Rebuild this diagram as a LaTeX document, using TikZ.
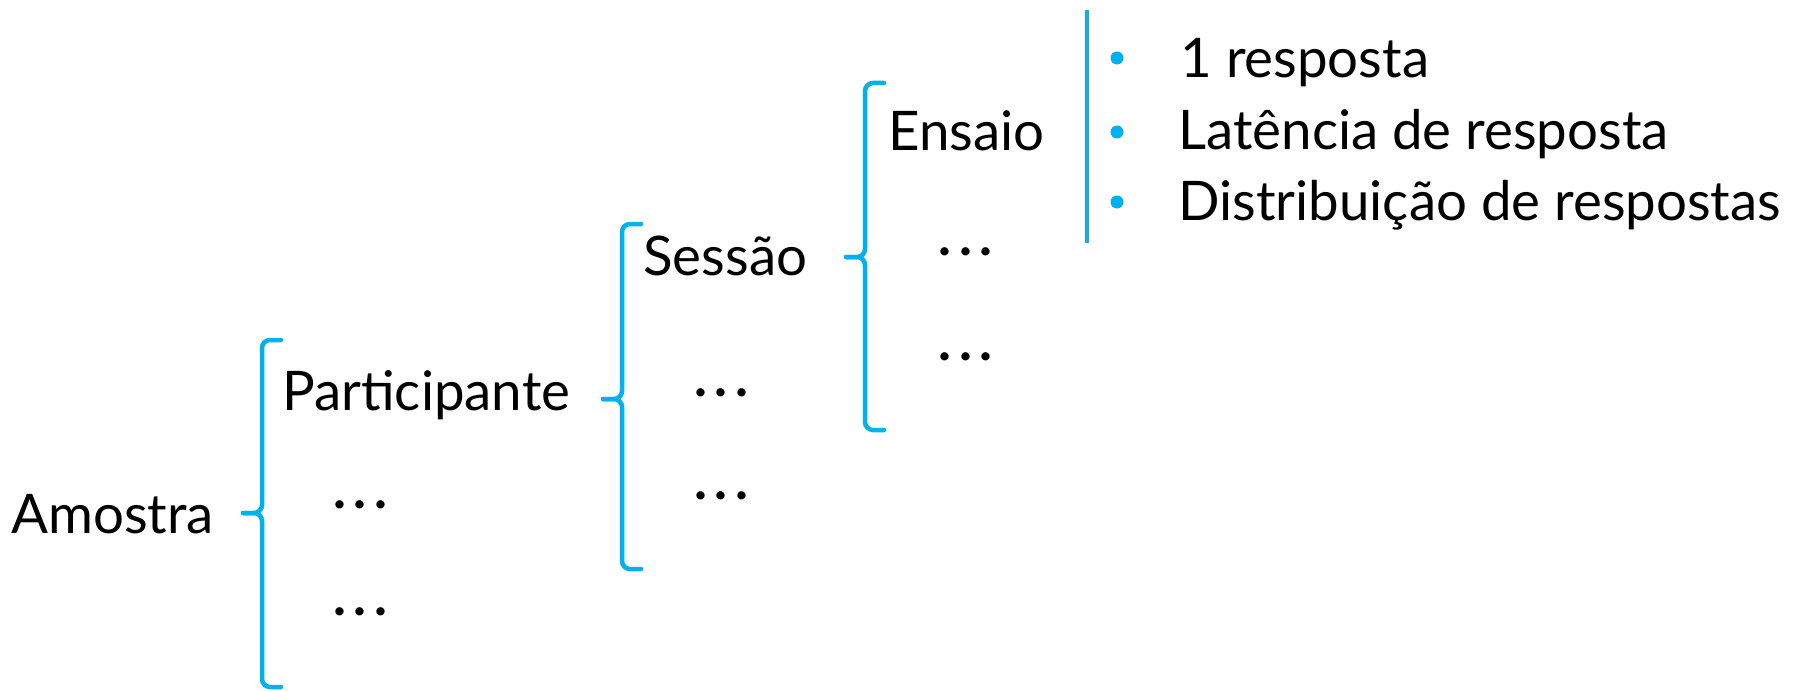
\documentclass[tikz,border=0pt]{standalone}
\usepackage{fontspec}
\setmainfont{Lato}
\definecolor{bracecol}{HTML}{00B0F0}
\definecolor{barcol}{HTML}{1DA9E2}
\newcommand\dotrow{\textbf{.\kern0.14em.\kern0.14em.}}
\begin{document}
\begin{tikzpicture}[x=0.5pt,y=-0.5pt,
  lbl/.style={anchor=base west,inner sep=0pt,font=\fontsize{27.3}{30}\selectfont,text=black},
  brc/.style={draw=bracecol,line width=2.25pt,rounded corners=4pt,line cap=round},
  bul/.style={circle,fill=bracecol,inner sep=0pt,minimum size=6.5pt}]
\useasboundingbox (0,0) rectangle (1802,690);
% texts
\node[lbl] (amostra) at (11,533) {Amostra};
\node[lbl] (part) at (282,410) {Participante};
\node[lbl] (pd1) at (333,508) {\dotrow};
\node[lbl] (pd2) at (333,615) {\dotrow};
\node[lbl] (sessao) at (643,275) {Sessão};
\node[lbl] (sd1) at (694,396) {\dotrow};
\node[lbl] (sd2) at (694,499) {\dotrow};
\node[lbl] (ensaio) at (888,150) {Ensaio};
\node[lbl] (ed1) at (938,255) {\dotrow};
\node[lbl] (ed2) at (938,360) {\dotrow};
\node[lbl] (l1) at (1180,78) {1 resposta};
\node[lbl] (l2) at (1178,149) {Latência de resposta};
\node[lbl] (l3) at (1178,220) {Distribuição de respostas};
\node[bul] (b1) at (1117,58) {};
\node[bul] (b2) at (1117,132) {};
\node[bul] (b3) at (1117,202) {};
% braces
\foreach \x/\t/\m/\b in {262/340/513/687, 622/224/399/569, 865/83/257/430}{
  \draw[brc] (\x+19,\t) -- (\x,\t) -- (\x,\m) -- (\x-19,\m);
  \draw[brc] (\x-19,\m) -- (\x,\m) -- (\x,\b) -- (\x+19,\b);
}
% list bar
\coordinate (bartop) at (1087,10);
\coordinate (barbot) at (1087,243);
\draw[barcol,line width=2.4pt] (bartop) -- (barbot);
\end{tikzpicture}
\end{document}
